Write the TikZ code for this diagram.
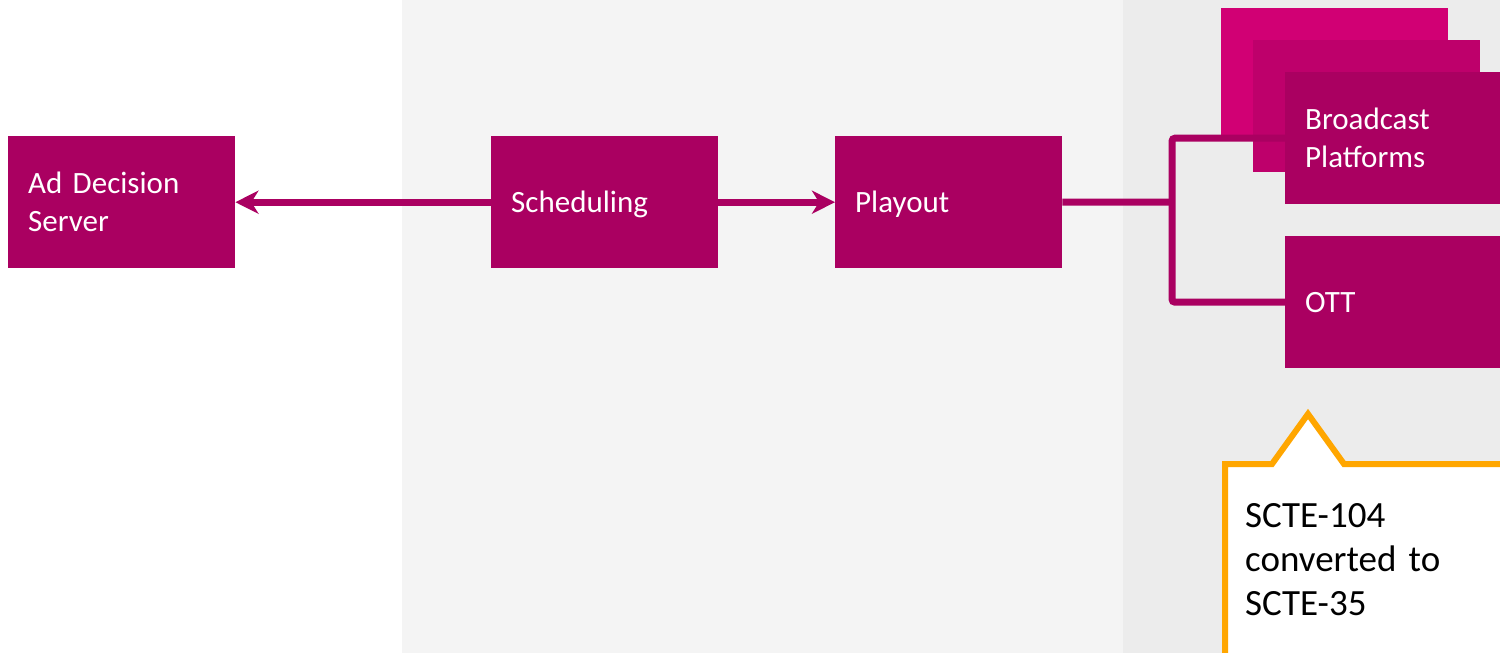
\documentclass[tikz,border=0pt]{standalone}
\usepackage{fontspec}
\setmainfont{Carlito}
\usetikzlibrary{positioning,arrows.meta,calc}
\definecolor{adpurple}{HTML}{AA0061}
\definecolor{admid}{HTML}{BE006B}
\definecolor{adpink}{HTML}{D10074}
\definecolor{adorange}{HTML}{FFA600}
\definecolor{bglight}{HTML}{F4F4F4}
\definecolor{bgdark}{HTML}{ECECEC}
\newcommand{\adstrut}{\rule[-8pt]{0pt}{37pt}}

\begin{document}
\begin{tikzpicture}[x=1pt, y=-1pt,
    block/.style={fill=adpurple, text=white, anchor=north west, minimum height=132pt,
      text width=187pt, inner xsep=20pt, inner ysep=0pt, align=left,
      font=\fontsize{31}{38}\selectfont,
      execute at begin node=\adstrut, execute at end node=\adstrut},
    flow/.style={adpurple, line width=7pt},
    tip/.style={-{Stealth[length=23pt, width=23pt, inset=7pt]}}]
    \useasboundingbox (0,0) rectangle (1500,653);
    \clip (0,0) rectangle (1500,653);
    % backdrop panels
    \fill[white] (0,0) rectangle (402,653);
    \fill[bglight] (402,0) rectangle (1123,653);
    \fill[bgdark] (1123,0) rectangle (1500,653);
    % blocks
    \node[block] (ads) at (8,136) {Ad Decision\\Server};
    \node[block] (sched) at (491,136) {Scheduling};
    \node[block] (playout) at (835,136) {Playout};
    \node[block, fill=adpink] (bcastback) at (1221,8) {};
    \node[block, fill=admid] (bcastmid) at (1253,40) {};
    \node[block] (bcast) at (1285,72) {Broadcast\\Platforms};
    \node[block] (ott) at (1285,236) {OTT};
    % connectors
    \draw[flow, tip] (sched.west) -- (ads.east);
    \draw[flow, tip] (sched.east) -- (playout.west);
    \coordinate (split) at (1172,202);
    \draw[flow] (playout.east) -- (split);
    \draw[flow, rounded corners=3pt] (bcast.west) -| (split) |- (ott.west);
    % callout
    \draw[adorange, fill=white, line width=6pt] (1225,700) -- (1225,464) -- (1272,464)
      -- (1308,414) -- (1344,464) -- (1520,464) -- (1520,700) -- cycle;
    \node[anchor=north west, inner sep=0pt, align=left, text width=240pt,
      font=\fontsize{37}{44}\selectfont] (note) at (1245,503) {SCTE-104\\converted to\\SCTE-35};
  \end{tikzpicture}
\end{document}
